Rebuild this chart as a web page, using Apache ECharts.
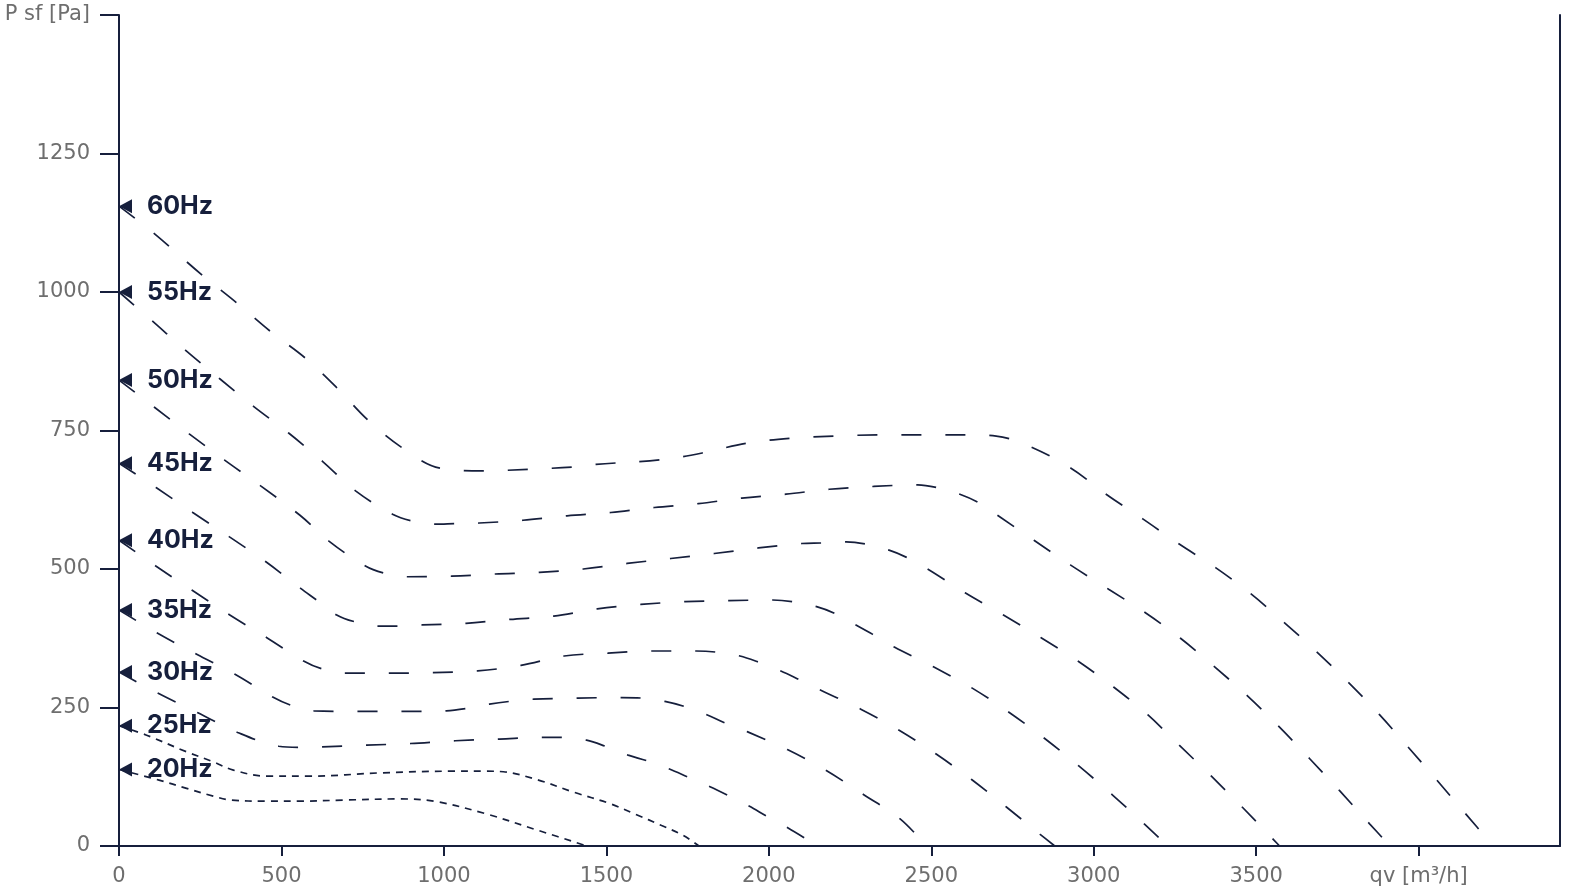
<!DOCTYPE html>
<html>
<head>
<meta charset="utf-8">
<title>Fan curves</title>
<script src="https://cdn.jsdelivr.net/npm/echarts@6/dist/echarts.min.js"></script>
<style>
  html, body { margin: 0; padding: 0; background: #fff; }
  #chart { width: 1578px; height: 896px; }
</style>
</head>
<body>
<div id="chart"></div>
<script>
// 风机曲线 qv [m3/h] -> P sf [Pa]
const hzNames = ['60Hz', '55Hz', '50Hz', '45Hz', '40Hz', '35Hz', '30Hz', '25Hz', '20Hz']

const qv60 = [0, 105, 255, 363, 468, 573, 671, 766, 871, 988, 1123, 1258, 1394, 1468, 1665, 1800, 1930, 2065, 2200, 2336, 2470, 2607, 2700, 2800, 2930, 3038, 3152, 3263, 3376, 3484, 3589, 3687, 3786, 3878, 3970, 4056, 4146, 4230]
const ps60 = [1155, 1107, 1031, 980, 928, 881, 827, 769, 719, 682, 677, 680, 684, 689, 697, 710, 727, 736, 740, 742, 742, 742, 740, 722, 682, 635, 590, 545, 502, 455, 402, 350, 294, 238, 177, 119, 57, 0]

const qv55 = [0, 104, 206, 311, 415, 523, 627, 728, 842, 900, 973, 1034, 1109, 1243, 1379, 1514, 1648, 1783, 1917, 2053, 2186, 2322, 2458, 2518, 2588, 2645, 2706, 2816, 2929, 3047, 3159, 3267, 3373, 3473, 3571, 3664, 3758, 3849, 3912]
const ps55 = [1000, 947, 894, 843, 793, 745, 694, 641, 599, 587, 581, 582, 583, 588, 596, 602, 611, 618, 628, 635, 644, 649, 652, 647, 635, 620, 596, 552, 507, 463, 421, 375, 323, 271, 215, 158, 99, 40, 0]

const qv50 = [0, 109, 216, 324, 436, 557, 647, 757, 814, 887, 1024, 1158, 1294, 1429, 1564, 1698, 1832, 1968, 2101, 2163, 2238, 2298, 2370, 2424, 2491, 2604, 2722, 2838, 2951, 3061, 3166, 3263, 3362, 3459, 3572]
const ps50 = [841, 792, 744, 697, 650, 597, 550, 506, 493, 486, 487, 491, 494, 500, 510, 519, 528, 538, 546, 547, 549, 545, 534, 521, 499, 457, 417, 376, 334, 287, 237, 182, 126, 69, 0]

const qv45 = [0, 114, 227, 340, 452, 559, 608, 670, 724, 798, 859, 933, 1068, 1203, 1338, 1472, 1606, 1742, 1877, 2012, 2073, 2147, 2202, 2268, 2320, 2386, 2508, 2626, 2740, 2849, 2953, 3058, 3157, 3228]
const ps45 = [691, 647, 602, 558, 513, 465, 444, 417, 405, 397, 397, 399, 402, 409, 415, 428, 436, 441, 443, 444, 441, 432, 420, 399, 382, 359, 323, 285, 241, 194, 145, 92, 39, 0]

const qv40 = [0, 112, 224, 341, 455, 568, 624, 695, 833, 965, 1104, 1237, 1370, 1505, 1639, 1776, 1837, 1911, 1968, 2037, 2091, 2160, 2283, 2401, 2515, 2624, 2732, 2835, 2880]
const ps40 = [552, 506, 462, 417, 376, 334, 320, 312, 312, 313, 316, 326, 343, 348, 352, 352, 350, 343, 332, 316, 301, 281, 247, 209, 166, 120, 70, 21, 0]

const qv35 = [0, 119, 239, 357, 473, 530, 600, 737, 872, 1007, 1068, 1140, 1202, 1277, 1412, 1548, 1609, 1680, 1739, 1809, 1865, 1935, 2057, 2175, 2291, 2404, 2485]
const ps35 = [426, 384, 346, 310, 269, 254, 244, 243, 243, 244, 248, 256, 261, 265, 267, 268, 267, 261, 252, 237, 222, 206, 174, 137, 93, 49, 0]

const qv30 = [0, 119, 241, 365, 492, 552, 626, 762, 897, 1035, 1171, 1304, 1365, 1439, 1497, 1567, 1624, 1694, 1749, 1819, 1872, 1939, 1993, 2058, 2150]
const ps30 = [314, 276, 241, 205, 180, 178, 179, 182, 185, 190, 193, 196, 196, 191, 180, 164, 154, 139, 125, 107, 92, 72, 54, 33, 0]

const qv25 = [0, 85, 208, 290, 352, 455, 589, 805, 1022, 1130, 1183, 1291, 1400, 1509, 1591, 1670, 1737, 1785]
const ps25 = [217, 200, 170, 152, 137, 126, 126, 132, 135, 135, 134, 119, 97, 77, 57, 37, 19, 0]

const qv20 = [0, 123, 208, 290, 342, 455, 557, 697, 865, 978, 1130, 1291, 1440]
const ps20 = [138, 119, 104, 90, 83, 81, 81, 83, 85, 80, 58, 28, 0]

const xTicks = [0, 500, 1000, 1500, 2000, 2500, 3000, 3500, 4000]
const xName = 'qv [m³/h]'
const yName = 'P sf [Pa]'

const navy = '#161f3c'
const grey = '#6e6e6e'

const curves = [
  [qv60, ps60], [qv55, ps55], [qv50, ps50], [qv45, ps45], [qv40, ps40],
  [qv35, ps35], [qv30, ps30], [qv25, ps25], [qv20, ps20]
]

const lineSeries = curves.map((c, i) => {
  const name = hzNames[i]
  const low = name === '25Hz' || name === '20Hz'
  return {
    name: name,
    type: 'line',
    smooth: 0.35,
    symbol: 'none',
    silent: true,
    data: c[0].map((q, k) => [q, c[1][k]]),
    lineStyle: {
      color: navy,
      width: 1.7,
      type: low ? [7, 6] : [20, 24] // 低频曲线用细虚线
    },
    z: 2
  }
})

const markerSeries = {
  type: 'scatter',
  silent: true,
  symbol: 'path://M0,5 L10,0 L10,10 Z',
  symbolSize: [13, 14],
  symbolOffset: [6.5, 0],
  itemStyle: { color: navy, opacity: 1 },
  label: {
    show: true,
    position: 'right',
    distance: 15,
    formatter: '{b}',
    color: navy,
    opacity: 1,
    fontFamily: 'Inter',
    fontWeight: 'bold',
    fontSize: 25
  },
  data: curves.map((c, i) => ({ name: hzNames[i], value: [c[0][0], c[1][0]] })),
  z: 5
}

const chart = echarts.init(document.getElementById('chart'))
chart.setOption({
  animation: false,
  backgroundColor: '#fff',
  grid: {
    left: 119,
    right: 18,
    top: 15,
    bottom: 50,
    containLabel: false
  },
  xAxis: {
    type: 'value',
    min: 0,
    max: 4435,
    interval: 500,
    splitLine: { show: false },
    axisLine: { lineStyle: { color: navy, width: 2 } },
    axisTick: {
      length: 10,
      customValues: xTicks,
      lineStyle: { color: navy, width: 2 }
    },
    axisLabel: {
      customValues: xTicks,
      margin: 20,
      color: grey,
      fontFamily: 'DejaVu Sans',
      fontSize: 21,
      formatter: v => (v === 4000 ? xName : String(v))
    }
  },
  yAxis: [{
    type: 'value',
    min: 0,
    max: 1500,
    interval: 250,
    splitLine: { show: false },
    axisLine: { show: true, lineStyle: { color: navy, width: 2 } },
    axisTick: { show: true, length: 19, lineStyle: { color: navy, width: 2 } },
    axisLabel: {
      margin: 29,
      padding: [9, 0, 0, 0],
      color: grey,
      fontFamily: 'DejaVu Sans',
      fontSize: 21,
      formatter: v => (v === 1500 ? yName : String(v))
    }
  }, {
    // 右侧边框
    type: 'value',
    position: 'right',
    min: 0,
    max: 1500,
    splitLine: { show: false },
    axisLine: { show: true, lineStyle: { color: navy, width: 2 } },
    axisTick: { show: false },
    axisLabel: { show: false }
  }],
  series: lineSeries.concat([markerSeries])
})
</script>
</body>
</html>
